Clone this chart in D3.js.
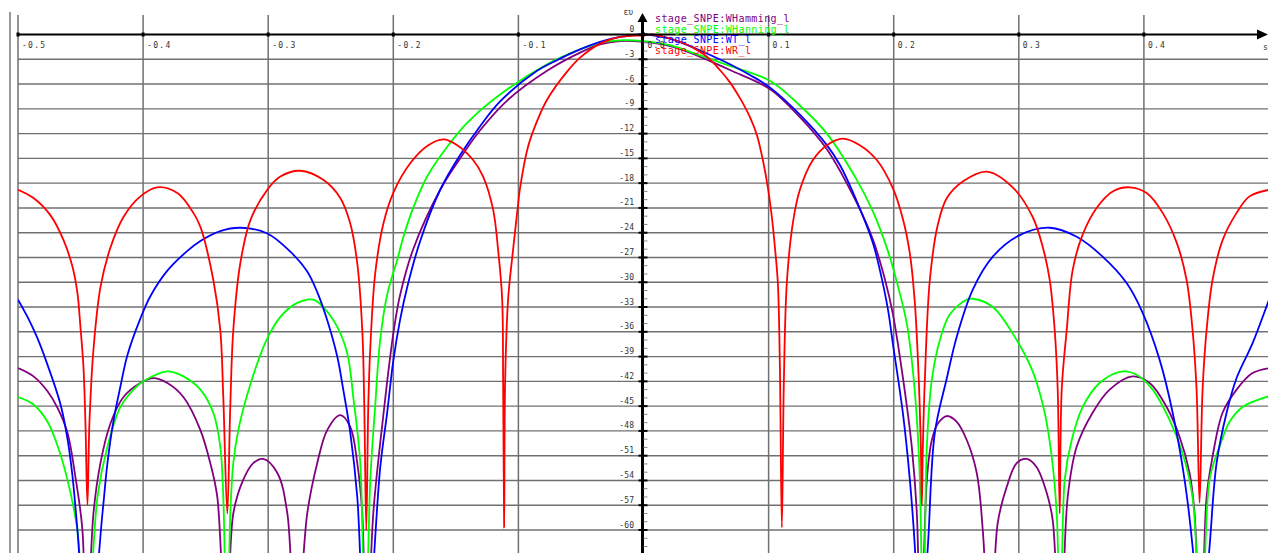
<!DOCTYPE html>
<html>
<head>
<meta charset="utf-8">
<script src="https://cdn.jsdelivr.net/npm/d3@7"></script>
<style>
body { margin: 0; background: #fff; }
svg { display: block; }
</style>
</head>
<body>
<div id="vis"></div>
<script>
const width = 1268;
const height = 553;

const xTicks = [-0.5, -0.4, -0.3, -0.2, -0.1, 0.0, 0.1, 0.2, 0.3, 0.4];
const xTickLabels = ["-0.5", "-0.4", "-0.3", "-0.2", "-0.1", "0.0", "0.1", "0.2", "0.3", "0.4"];
const yTicks = [0, -3, -6, -9, -12, -15, -18, -21, -24, -27, -30, -33, -36, -39, -42, -45, -48, -51, -54, -57, -60];
const yTickLabels = ["0", "-3", "-6", "-9", "-12", "-15", "-18", "-21", "-24", "-27", "-30", "-33", "-36", "-39", "-42", "-45", "-48", "-51", "-54", "-57", "-60"];

const seriesNames = ["stage_SNPE:WHamming_l", "stage_SNPE:WHanning_l", "stage_SNPE:WT_l", "stage_SNPE:WR_l"];
const seriesColors = ["#800080", "#00ff00", "#0000ff", "#ff0000"];

// [normalised frequency, dB]
const hammingPts = [[-0.5,-40.4],[-0.4876,-41.4],[-0.4764,-43.2],[-0.4684,-45.2],[-0.4605,-48.2],[-0.4541,-53.6],[-0.4485,-60],[-0.4455,-75],[-0.4397,-58],[-0.4341,-51.9],[-0.4261,-47.1],[-0.4157,-43.9],[-0.4022,-42.2],[-0.3918,-41.6],[-0.3806,-42.2],[-0.3678,-43.9],[-0.3542,-47.9],[-0.3463,-51.9],[-0.3407,-56],[-0.3335,-75],[-0.3279,-58],[-0.3199,-53.9],[-0.3119,-51.9],[-0.3039,-51.4],[-0.2927,-53.1],[-0.2847,-58],[-0.278,-75],[-0.2688,-58],[-0.2608,-51.9],[-0.2528,-47.9],[-0.2424,-46.1],[-0.2344,-47.5],[-0.2288,-51.9],[-0.2248,-58],[-0.2216,-75],[-0.216,-58],[-0.2105,-49.5],[-0.2049,-42],[-0.1993,-35.5],[-0.1945,-31.5],[-0.1841,-26],[-0.1625,-18.8],[-0.1466,-15],[-0.1306,-11.6],[-0.109,-8],[-0.0771,-4.4],[-0.0507,-2.2],[-0.0347,-1.2],[-0.0188,-0.8],[0,-0.9],[0.0212,-1.4],[0.0371,-2.2],[0.0691,-4.3],[0.101,-6.6],[0.125,-10],[0.1466,-13.9],[0.1705,-20.4],[0.1833,-24.8],[0.1929,-29.6],[0.1993,-33.8],[0.2073,-41.5],[0.2145,-50],[0.2185,-58],[0.2217,-75],[0.2265,-53.9],[0.2305,-49.1],[0.2353,-47.1],[0.2425,-46.2],[0.2504,-46.9],[0.2584,-49.1],[0.2664,-53.1],[0.2712,-60],[0.2772,-75],[0.2831,-59.2],[0.2903,-54.8],[0.2983,-51.9],[0.3063,-51.4],[0.3143,-52.4],[0.3223,-55.5],[0.3271,-58.8],[0.333,-75],[0.3391,-56],[0.3463,-49.9],[0.359,-45.8],[0.3726,-43],[0.391,-41.4],[0.4046,-42.2],[0.4182,-45.1],[0.4285,-48.7],[0.4365,-53.1],[0.4405,-58],[0.4455,-75],[0.4501,-56],[0.4549,-51.1],[0.4629,-45.8],[0.4741,-43],[0.4868,-41],[0.5,-40.4]];

const hanningPts = [[-0.5,-43.9],[-0.4876,-44.8],[-0.4764,-46.9],[-0.4684,-49.8],[-0.4605,-53.9],[-0.4525,-60],[-0.4455,-75],[-0.4365,-56],[-0.4285,-49.9],[-0.4181,-45.1],[-0.4077,-43],[-0.3998,-42],[-0.3806,-40.8],[-0.3678,-41.4],[-0.3542,-43],[-0.3439,-45.8],[-0.3383,-49.9],[-0.3359,-56],[-0.333,-75],[-0.3303,-58],[-0.3279,-51.9],[-0.3239,-47.9],[-0.3167,-43.6],[-0.3087,-39.8],[-0.3007,-36.8],[-0.2903,-34.2],[-0.2768,-32.5],[-0.264,-32.1],[-0.256,-33],[-0.2448,-35.4],[-0.2368,-38.6],[-0.232,-43.9],[-0.2264,-51.9],[-0.2225,-75],[-0.2184,-54],[-0.2145,-45],[-0.2105,-37],[-0.2049,-31.5],[-0.1969,-27.3],[-0.1921,-24.6],[-0.1841,-21],[-0.1729,-17.2],[-0.1569,-13.6],[-0.141,-10.7],[-0.1202,-7.9],[-0.0771,-3.6],[-0.0507,-1.8],[-0.0347,-1],[-0.0188,-0.7],[0,-0.8],[0.0212,-1.3],[0.0371,-2.1],[0.0691,-3.8],[0.101,-5.6],[0.125,-8.6],[0.1466,-12],[0.1705,-17.6],[0.1833,-21.4],[0.1953,-26.2],[0.2033,-30.4],[0.2105,-35],[0.2145,-39.5],[0.2185,-46.5],[0.2209,-53.9],[0.2237,-75],[0.2265,-49.9],[0.2305,-41.8],[0.2369,-37],[0.2448,-33.9],[0.2584,-32.1],[0.2632,-32],[0.2792,-33],[0.2983,-37],[0.3111,-40.8],[0.3207,-45.8],[0.3263,-51.1],[0.3303,-58],[0.3335,-75],[0.3367,-53.9],[0.3423,-49.1],[0.3511,-45.1],[0.3646,-42.2],[0.383,-40.8],[0.3942,-41.2],[0.407,-43],[0.4206,-46.7],[0.4309,-50.7],[0.4389,-56],[0.4461,-75],[0.4525,-53.9],[0.4605,-49.9],[0.4685,-46.9],[0.4789,-45.1],[0.5,-43.8]];

const triangPts = [[-0.5,-32.1],[-0.4924,-34.2],[-0.4844,-36.8],[-0.4764,-40],[-0.466,-44.8],[-0.4605,-48.9],[-0.4565,-53.4],[-0.4525,-60],[-0.444,-75],[-0.4325,-58],[-0.4285,-51.9],[-0.4237,-46.8],[-0.4181,-42.6],[-0.4125,-38.8],[-0.4022,-34.4],[-0.3942,-31.7],[-0.3806,-28.6],[-0.3646,-26.2],[-0.3542,-25],[-0.3383,-23.8],[-0.3223,-23.4],[-0.3007,-24.1],[-0.2823,-26.3],[-0.2688,-28.7],[-0.2608,-31.2],[-0.2528,-34.6],[-0.2448,-39],[-0.24,-43],[-0.2344,-48.2],[-0.2288,-56],[-0.222,-75],[-0.2105,-52.5],[-0.2049,-45.8],[-0.2001,-39.6],[-0.1945,-34.5],[-0.1889,-30.6],[-0.1785,-25],[-0.1625,-18.8],[-0.1466,-14.6],[-0.1306,-11.1],[-0.1146,-8.1],[-0.0851,-4.4],[-0.0691,-3.1],[-0.0507,-1.8],[-0.0347,-0.9],[-0.0188,-0.3],[0,0],[0.0212,-0.5],[0.0371,-1.4],[0.0507,-2.3],[0.0691,-3.6],[0.0851,-4.9],[0.101,-6.4],[0.125,-9.7],[0.1466,-13.4],[0.157,-15.8],[0.1705,-20.2],[0.1833,-25.2],[0.1889,-28.5],[0.1953,-33.2],[0.1993,-37.4],[0.2073,-45.8],[0.2129,-53.9],[0.2169,-62],[0.221,-75],[0.2273,-62],[0.2329,-48.2],[0.2425,-41.6],[0.2504,-36.6],[0.2632,-30.9],[0.2792,-26.9],[0.3007,-24.3],[0.3247,-23.4],[0.3463,-24.5],[0.367,-26.9],[0.3862,-30.1],[0.399,-33.7],[0.4126,-39.4],[0.423,-45.8],[0.4325,-53.9],[0.4389,-62],[0.4453,-75],[0.4525,-62],[0.4581,-51.9],[0.4661,-45.8],[0.4741,-41.6],[0.4868,-37.4],[0.5,-32.1]];

const rectPts = [[-0.5,-18.8],[-0.4876,-19.8],[-0.474,-21.9],[-0.4636,-24.9],[-0.4565,-28.1],[-0.4525,-31.3],[-0.4501,-35.4],[-0.4477,-40.2],[-0.4461,-47],[-0.4445,-57],[-0.4429,-47],[-0.4397,-38.2],[-0.4341,-30.6],[-0.4261,-25.8],[-0.4157,-22.1],[-0.4022,-19.6],[-0.3886,-18.5],[-0.3726,-19.2],[-0.3598,-21.6],[-0.3542,-23.3],[-0.3439,-29.7],[-0.3383,-35.8],[-0.3359,-43.9],[-0.3327,-58],[-0.3303,-45],[-0.3279,-35.8],[-0.3223,-27.7],[-0.3143,-22.5],[-0.3007,-18.8],[-0.2903,-17.2],[-0.2744,-16.5],[-0.256,-17.6],[-0.2424,-19.8],[-0.2344,-22.9],[-0.2288,-27.7],[-0.2248,-35.8],[-0.2232,-45],[-0.2216,-60],[-0.22,-45],[-0.2184,-38],[-0.2145,-29],[-0.2081,-23],[-0.2001,-19.2],[-0.1865,-15.6],[-0.1729,-13.5],[-0.1601,-12.7],[-0.1489,-13.4],[-0.1362,-15.2],[-0.1282,-17.2],[-0.1202,-21.2],[-0.1162,-26.1],[-0.113,-32],[-0.1122,-42],[-0.1114,-59.7],[-0.1106,-42],[-0.1082,-32],[-0.1042,-26],[-0.1002,-20.5],[-0.0986,-18.5],[-0.0923,-13.6],[-0.0851,-10.5],[-0.0771,-7.9],[-0.0611,-4.5],[-0.0507,-2.8],[-0.0347,-1.1],[-0.0188,-0.3],[0,-0.1],[0.0076,0],[0.0212,-0.5],[0.0371,-1.4],[0.0507,-2.7],[0.0611,-4.3],[0.0691,-5.8],[0.0771,-7.7],[0.0851,-10],[0.0907,-12.2],[0.0954,-15.2],[0.0994,-18.5],[0.1026,-22.1],[0.105,-25.7],[0.1074,-30.1],[0.109,-40],[0.1106,-59.7],[0.1122,-42],[0.1146,-30],[0.1194,-22.8],[0.125,-18.8],[0.1354,-15.2],[0.1466,-13.4],[0.1593,-12.6],[0.1729,-13.4],[0.1865,-15.2],[0.1993,-18.6],[0.2073,-22.3],[0.2129,-26.5],[0.2169,-32.5],[0.2201,-42],[0.2217,-50],[0.2225,-57],[0.2233,-50],[0.2249,-41.8],[0.2289,-29.7],[0.2353,-23],[0.2425,-19.8],[0.2552,-17.8],[0.2744,-16.6],[0.2951,-18.5],[0.3111,-22.1],[0.3191,-25.7],[0.3247,-29.7],[0.3287,-35.8],[0.3311,-43],[0.3327,-58],[0.3343,-43],[0.3383,-35.8],[0.3431,-28.5],[0.3511,-24.2],[0.3622,-21],[0.375,-19],[0.3886,-18.5],[0.4022,-19.2],[0.415,-21.6],[0.4262,-25.2],[0.4341,-29.7],[0.4389,-35.8],[0.4421,-43],[0.4445,-56.7],[0.4469,-43],[0.4501,-35.8],[0.4549,-29.7],[0.4629,-24.9],[0.4741,-21.6],[0.4844,-19.6],[0.5,-18.8]];

const seriesData = [hammingPts, hanningPts, triangPts, rectPts];

const svg = d3.select("#vis").append("svg")
    .attr("width", width)
    .attr("height", height);

const xScale = d3.scaleLinear().domain([-0.5, 0.5]).range([18, 1269]);
const yScale = d3.scaleLinear().domain([0, -60]).range([34.5, 530]);
const x0 = xScale(0);
const y0 = yScale(0);

// left frame line
svg.append("line")
    .attr("x1", 10).attr("x2", 10).attr("y1", 12).attr("y2", height)
    .attr("stroke", "#999").attr("stroke-width", 2);

// grid
svg.append("g").selectAll("line")
    .data(yTicks.filter(d => d !== 0))
    .enter().append("line")
    .attr("x1", 18).attr("x2", width)
    .attr("y1", d => yScale(d)).attr("y2", d => yScale(d))
    .attr("stroke", "#707070").attr("stroke-width", 1.4);

svg.append("g").selectAll("line")
    .data(xTicks.filter(d => d !== 0))
    .enter().append("line")
    .attr("x1", d => xScale(d)).attr("x2", d => xScale(d))
    .attr("y1", 15).attr("y2", height)
    .attr("stroke", "#707070").attr("stroke-width", 1.5);

// curves
svg.append("clipPath").attr("id", "plot")
    .append("rect").attr("x", 18).attr("y", 0).attr("width", width - 18).attr("height", height);

const line = d3.line()
    .x(d => xScale(d[0]))
    .y(d => yScale(d[1]))
    .curve(d3.curveCatmullRom.alpha(0.5));

svg.append("g").attr("clip-path", "url(#plot)")
    .selectAll("path")
    .data(seriesData)
    .enter().append("path")
    .attr("d", line)
    .attr("fill", "none")
    .attr("stroke", (d, i) => seriesColors[i])
    .attr("stroke-width", 1.8)
    .attr("stroke-linejoin", "round");

// x axis with arrow
svg.append("line")
    .attr("x1", 18).attr("x2", 1260).attr("y1", y0).attr("y2", y0)
    .attr("stroke", "#000").attr("stroke-width", 2);
svg.append("path")
    .attr("d", `M1268,${y0} L1257,${y0 - 5} L1257,${y0 + 5} Z`)
    .attr("fill", "#000");
svg.append("g").selectAll("rect")
    .data(xTicks)
    .enter().append("rect")
    .attr("x", d => xScale(d) - 1.5).attr("y", y0 - 2)
    .attr("width", 3).attr("height", 4)
    .attr("fill", "#000");
svg.append("g").selectAll("text")
    .data(xTicks)
    .enter().append("text")
    .attr("x", d => xScale(d) + 4)
    .attr("y", y0 + 13)
    .attr("font-family", "DejaVu Sans Mono")
    .attr("font-size", 8)
    .attr("letter-spacing", 1.3)
    .attr("fill", "#333")
    .text((d, i) => xTickLabels[i]);
svg.append("text")
    .attr("x", 1263).attr("y", 50)
    .attr("font-family", "DejaVu Sans Mono").attr("font-size", 8)
    .attr("fill", "#333").text("s");

// y axis with arrow
svg.append("line")
    .attr("x1", x0 - 1).attr("x2", x0 - 1).attr("y1", 18).attr("y2", height)
    .attr("stroke", "#000").attr("stroke-width", 3);
svg.append("path")
    .attr("d", `M${x0 - 1},13 L${x0 - 6},22 L${x0 + 4},22 Z`)
    .attr("fill", "#000");
svg.append("g").selectAll("line")
    .data(d3.range(0, -64, -1).filter(d => d % 3 !== 0))
    .enter().append("line")
    .attr("x1", x0).attr("x2", x0 + 4)
    .attr("y1", d => yScale(d)).attr("y2", d => yScale(d))
    .attr("stroke", "#888").attr("stroke-width", 1);
svg.append("g").selectAll("line")
    .data(yTicks)
    .enter().append("line")
    .attr("x1", x0 - 5).attr("x2", x0 + 4)
    .attr("y1", d => yScale(d)).attr("y2", d => yScale(d))
    .attr("stroke", "#000").attr("stroke-width", 2);
svg.append("g").selectAll("text")
    .data(yTicks)
    .enter().append("text")
    .attr("x", x0 - 9)
    .attr("y", d => yScale(d) - 2.5)
    .attr("text-anchor", "end")
    .attr("font-family", "DejaVu Sans Mono")
    .attr("font-size", 8)
    .attr("letter-spacing", 0.3)
    .attr("fill", "#333")
    .text((d, i) => yTickLabels[i]);
svg.append("text")
    .attr("x", x0 - 20).attr("y", 15)
    .attr("font-family", "DejaVu Sans Mono").attr("font-size", 8)
    .attr("fill", "#333").text("ευ");

// legend (overlaps the axis labels, as in the source)
svg.append("g").selectAll("text")
    .data(seriesNames)
    .enter().append("text")
    .attr("x", 655)
    .attr("y", (d, i) => 22 + i * 10.7)
    .attr("font-family", "DejaVu Sans Mono")
    .attr("font-size", 10)
    .attr("letter-spacing", 0.4)
    .attr("fill", (d, i) => seriesColors[i])
    .text(d => d);
</script>
</body>
</html>
